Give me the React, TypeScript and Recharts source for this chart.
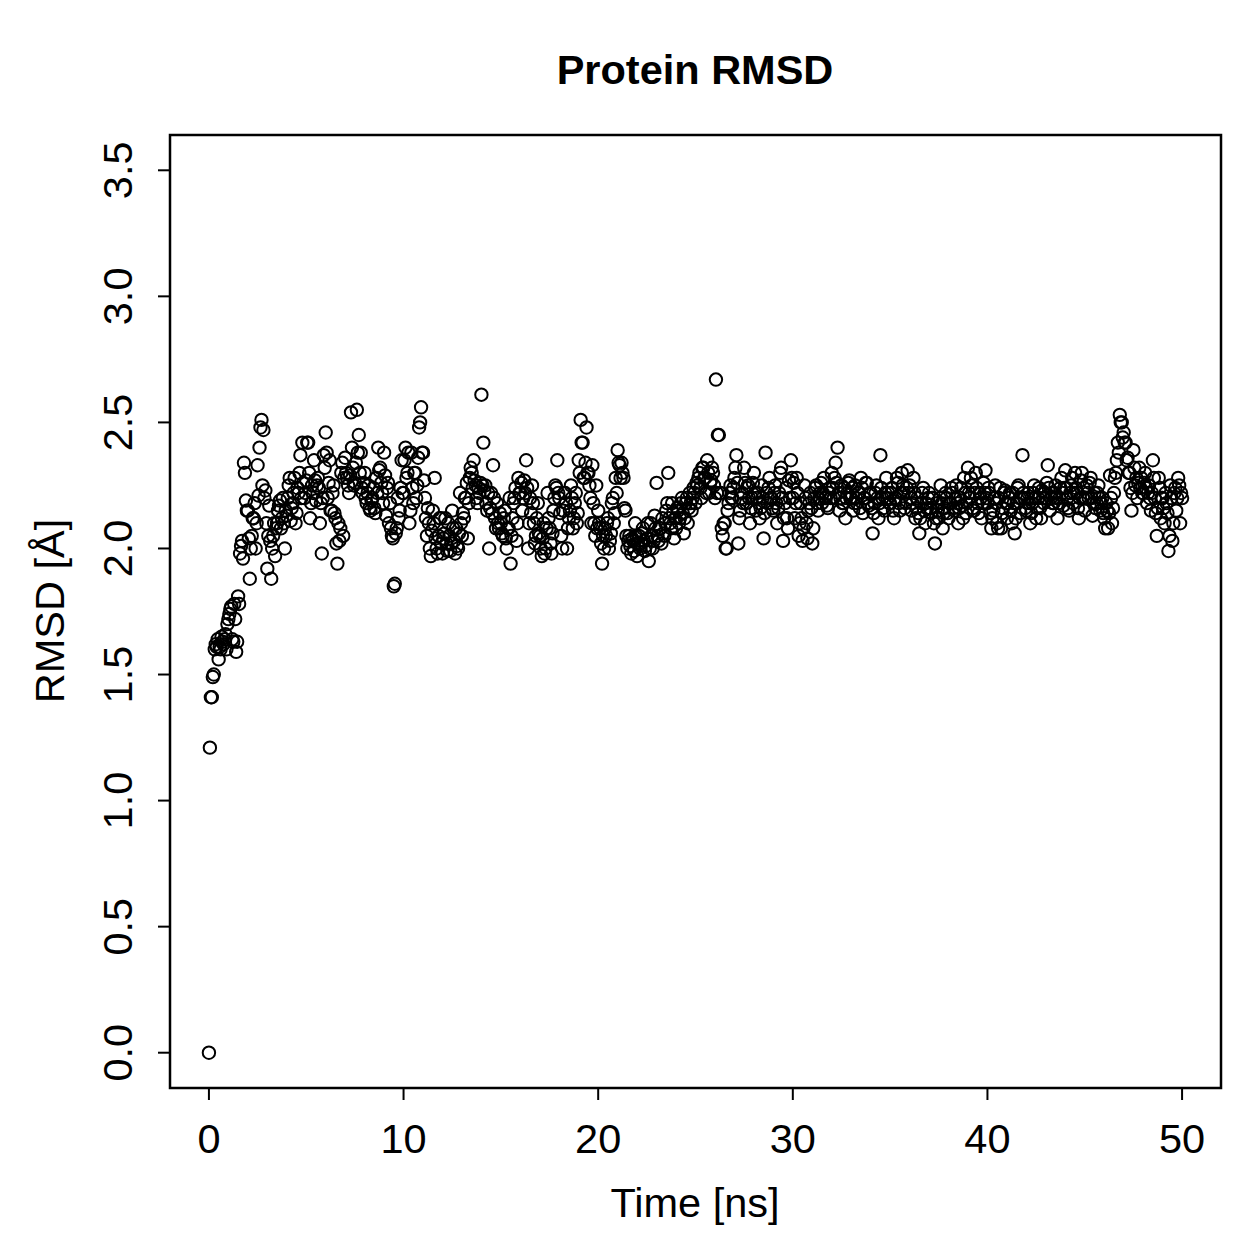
import React from "react";
import {
  ScatterChart,
  Scatter,
  XAxis,
  YAxis,
  ReferenceArea,
} from "recharts";

// RMSD sampled every 0.05 ns (20 frames per row = 1 ns), split in 10 ns blocks
const STEP_NS = 0.05;

const rmsd0to10 = [
  0.0, 1.21, 1.41, 1.41, 1.49, 1.5, 1.6, 1.62, 1.61, 1.64, 1.56, 1.61, 1.6, 1.65, 1.63, 1.62, 1.64, 1.66, 1.6, 1.7,
  1.72, 1.74, 1.76, 1.77, 1.64, 1.63, 1.78, 1.72, 1.59, 1.63, 1.81, 1.78, 1.98, 2.01, 2.03, 1.96, 2.34, 2.3, 2.19, 2.15,
  2.15, 2.04, 1.88, 2.0, 2.05, 2.12, 2.12, 2.18, 2.0, 2.1, 2.33, 2.21, 2.4, 2.48, 2.51, 2.25, 2.47, 2.2, 2.23, 2.1,
  1.92, 2.05, 2.17, 2.03, 1.88, 2.0, 2.05, 2.1, 1.97, 2.08, 2.1, 2.15, 2.17, 2.19, 2.08, 2.12, 2.2, 2.1, 2.0, 2.15,
  2.13, 2.2, 2.25, 2.28, 2.11, 2.16, 2.18, 2.22, 2.28, 2.1, 2.14, 2.24, 2.22, 2.3, 2.37, 2.2, 2.42, 2.26, 2.2, 2.22,
  2.27, 2.42, 2.42, 2.3, 2.12, 2.18, 2.25, 2.22, 2.35, 2.27, 2.19, 2.25, 2.28, 2.24, 2.1, 2.18, 1.98, 2.2, 2.37, 2.32,
  2.46, 2.38, 2.2, 2.26, 2.35, 2.15, 2.15, 2.22, 2.25, 2.14, 2.12, 2.02, 1.94, 2.1, 2.03, 2.08, 2.3, 2.34, 2.05, 2.28,
  2.36, 2.3, 2.28, 2.25, 2.22, 2.29, 2.54, 2.4, 2.32, 2.25, 2.26, 2.34, 2.55, 2.38, 2.45, 2.3, 2.38, 2.24, 2.22, 2.26,
  2.3, 2.2, 2.18, 2.22, 2.25, 2.16, 2.15, 2.19, 2.2, 2.24, 2.16, 2.14, 2.28, 2.22, 2.4, 2.31, 2.32, 2.26, 2.22, 2.18,
  2.38, 2.29, 2.13, 2.24, 2.26, 2.1, 2.18, 2.08, 2.05, 2.04, 1.85, 1.86, 2.06, 2.08, 2.2, 2.12, 2.15, 2.24, 2.35, 2.22,
];

const rmsd10to20 = [
  2.22, 2.35, 2.4, 2.28, 2.3, 2.38, 2.1, 2.15, 2.38, 2.24, 2.18, 2.3, 2.3, 2.2, 2.25, 2.36, 2.48, 2.5, 2.56, 2.38,
  2.38, 2.27, 2.2, 2.12, 2.05, 2.16, 2.1, 2.0, 1.97, 2.07, 2.15, 2.1, 2.28, 2.04, 2.0, 1.98, 2.05, 2.12, 2.12, 2.02,
  1.98, 2.04, 2.06, 2.12, 2.02, 1.99, 2.1, 2.05, 1.99, 2.02, 2.15, 2.08, 2.03, 1.98, 2.08, 2.01, 2.0, 2.06, 2.22, 2.1,
  2.05, 2.14, 2.12, 2.2, 2.2, 2.26, 2.04, 2.18, 2.28, 2.32, 2.3, 2.24, 2.35, 2.27, 2.25, 2.2, 2.18, 2.24, 2.22, 2.26,
  2.61, 2.25, 2.42, 2.23, 2.25, 2.18, 2.15, 2.22, 2.0, 2.16, 2.22, 2.14, 2.33, 2.2, 2.12, 2.08, 2.18, 2.1, 2.08, 2.14,
  2.1, 2.06, 2.05, 2.12, 2.15, 2.04, 2.0, 2.08, 2.08, 2.2, 1.94, 2.05, 2.12, 2.18, 2.2, 2.24, 2.03, 2.1, 2.28, 2.22,
  2.22, 2.26, 2.15, 2.2, 2.27, 2.22, 2.35, 2.24, 2.0, 2.1, 2.2, 2.14, 2.25, 2.18, 2.1, 2.02, 2.05, 2.12, 2.18, 2.06,
  2.05, 2.0, 1.97, 2.04, 2.1, 1.98, 2.0, 2.08, 2.22, 2.12, 2.08, 2.02, 1.98, 2.06, 2.15, 2.2, 2.25, 2.24, 2.35, 2.22,
  2.2, 2.14, 2.05, 2.0, 2.15, 2.22, 2.22, 2.18, 2.0, 2.08, 2.12, 2.15, 2.25, 2.2, 2.08, 2.12, 2.18, 2.22, 2.1, 2.14,
  2.35, 2.3, 2.51, 2.42, 2.42, 2.28, 2.28, 2.34, 2.48, 2.3, 2.3, 2.25, 2.2, 2.1, 2.33, 2.18, 2.1, 2.05, 2.25, 2.08,
];

const rmsd20to30 = [
  2.15, 2.1, 2.08, 2.02, 1.94, 2.05, 2.0, 2.08, 2.05, 2.1, 2.12, 2.0, 2.03, 2.06, 2.18, 2.2, 2.1, 2.14, 2.28, 2.22,
  2.39, 2.34, 2.33, 2.28, 2.34, 2.3, 2.28, 2.16, 2.15, 2.05, 2.0, 2.03, 2.05, 2.01, 1.98, 2.04, 2.03, 1.99, 2.1, 2.05,
  1.97, 2.02, 2.05, 2.0, 2.02, 2.06, 2.08, 2.03, 1.99, 2.01, 2.04, 2.1, 1.95, 2.0, 2.1, 2.05, 2.0, 2.03, 2.13, 2.08,
  2.26, 2.05, 2.03, 2.08, 2.08, 2.02, 2.12, 2.06, 2.05, 2.1, 2.15, 2.18, 2.3, 2.12, 2.1, 2.08, 2.18, 2.14, 2.04, 2.12,
  2.08, 2.16, 2.15, 2.1, 2.12, 2.18, 2.2, 2.14, 2.06, 2.12, 2.18, 2.2, 2.1, 2.16, 2.22, 2.18, 2.15, 2.2, 2.24, 2.22,
  2.18, 2.26, 2.25, 2.28, 2.3, 2.24, 2.2, 2.32, 2.32, 2.28, 2.28, 2.22, 2.35, 2.3, 2.22, 2.26, 2.27, 2.32, 2.3, 2.25,
  2.2, 2.67, 2.22, 2.45, 2.45, 2.22, 2.22, 2.08, 2.05, 2.1, 2.1, 2.0, 2.0, 2.15, 2.18, 2.22, 2.25, 2.2, 2.2, 2.24,
  2.28, 2.32, 2.37, 2.26, 2.02, 2.12, 2.15, 2.2, 2.22, 2.18, 2.32, 2.26, 2.18, 2.24, 2.25, 2.2, 2.1, 2.16, 2.2, 2.26,
  2.3, 2.22, 2.15, 2.2, 2.22, 2.18, 2.12, 2.16, 2.25, 2.2, 2.04, 2.14, 2.38, 2.22, 2.18, 2.24, 2.28, 2.2, 2.2, 2.16,
  2.15, 2.22, 2.25, 2.18, 2.1, 2.16, 2.22, 2.3, 2.32, 2.2, 2.03, 2.12, 2.18, 2.24, 2.12, 2.08, 2.27, 2.2, 2.35, 2.28,
];

const rmsd30to40 = [
  2.2, 2.26, 2.12, 2.18, 2.28, 2.22, 2.05, 2.1, 2.18, 2.12, 2.03, 2.08, 2.25, 2.2, 2.1, 2.04, 2.15, 2.18, 2.22, 2.16,
  2.02, 2.08, 2.2, 2.24, 2.25, 2.18, 2.15, 2.2, 2.22, 2.26, 2.18, 2.22, 2.28, 2.2, 2.2, 2.17, 2.16, 2.22, 2.24, 2.2,
  2.3, 2.24, 2.2, 2.28, 2.34, 2.26, 2.4, 2.22, 2.15, 2.2, 2.25, 2.18, 2.18, 2.24, 2.12, 2.2, 2.22, 2.26, 2.27, 2.2,
  2.2, 2.24, 2.15, 2.18, 2.25, 2.2, 2.18, 2.22, 2.22, 2.16, 2.28, 2.24, 2.14, 2.2, 2.2, 2.26, 2.26, 2.18, 2.17, 2.22,
  2.22, 2.16, 2.06, 2.14, 2.18, 2.22, 2.25, 2.2, 2.12, 2.18, 2.37, 2.24, 2.2, 2.16, 2.15, 2.22, 2.28, 2.2, 2.22, 2.18,
  2.18, 2.22, 2.24, 2.15, 2.12, 2.2, 2.2, 2.28, 2.26, 2.18, 2.15, 2.22, 2.3, 2.25, 2.22, 2.16, 2.18, 2.24, 2.31, 2.22,
  2.25, 2.2, 2.15, 2.18, 2.28, 2.22, 2.12, 2.16, 2.2, 2.14, 2.06, 2.12, 2.18, 2.22, 2.24, 2.15, 2.1, 2.18, 2.16, 2.2,
  2.22, 2.16, 2.14, 2.2, 2.2, 2.1, 2.02, 2.12, 2.18, 2.15, 2.12, 2.2, 2.25, 2.18, 2.08, 2.14, 2.16, 2.22, 2.2, 2.14,
  2.12, 2.18, 2.18, 2.24, 2.22, 2.16, 2.15, 2.2, 2.25, 2.18, 2.1, 2.16, 2.2, 2.24, 2.17, 2.12, 2.28, 2.22, 2.14, 2.18,
  2.32, 2.22, 2.2, 2.28, 2.25, 2.16, 2.15, 2.22, 2.3, 2.24, 2.18, 2.14, 2.22, 2.2, 2.12, 2.18, 2.26, 2.22, 2.31, 2.2,
];

const rmsd40to50 = [
  2.18, 2.24, 2.22, 2.14, 2.08, 2.12, 2.15, 2.2, 2.25, 2.18, 2.1, 2.08, 2.2, 2.24, 2.08, 2.14, 2.16, 2.22, 2.23, 2.18,
  2.12, 2.18, 2.2, 2.22, 2.15, 2.1, 2.22, 2.18, 2.06, 2.12, 2.18, 2.24, 2.25, 2.2, 2.14, 2.2, 2.37, 2.22, 2.2, 2.16,
  2.15, 2.2, 2.22, 2.18, 2.1, 2.14, 2.18, 2.22, 2.25, 2.2, 2.12, 2.16, 2.2, 2.24, 2.16, 2.12, 2.23, 2.2, 2.18, 2.22,
  2.2, 2.26, 2.33, 2.24, 2.15, 2.2, 2.22, 2.18, 2.18, 2.22, 2.25, 2.2, 2.12, 2.18, 2.2, 2.24, 2.28, 2.22, 2.17, 2.24,
  2.31, 2.24, 2.2, 2.16, 2.15, 2.22, 2.25, 2.28, 2.18, 2.22, 2.3, 2.24, 2.22, 2.16, 2.12, 2.2, 2.27, 2.3, 2.2, 2.24,
  2.15, 2.2, 2.25, 2.22, 2.2, 2.26, 2.28, 2.2, 2.13, 2.18, 2.22, 2.16, 2.18, 2.22, 2.25, 2.2, 2.15, 2.18, 2.2, 2.14,
  2.12, 2.08, 2.18, 2.15, 2.08, 2.14, 2.29, 2.2, 2.1, 2.16, 2.22, 2.28, 2.3, 2.35, 2.42, 2.38, 2.53, 2.5, 2.5, 2.44,
  2.46, 2.42, 2.42, 2.35, 2.36, 2.3, 2.3, 2.24, 2.15, 2.22, 2.39, 2.32, 2.25, 2.28, 2.2, 2.26, 2.32, 2.24, 2.28, 2.22,
  2.22, 2.26, 2.3, 2.24, 2.18, 2.22, 2.25, 2.2, 2.15, 2.22, 2.35, 2.28, 2.2, 2.14, 2.05, 2.16, 2.28, 2.24, 2.12, 2.2,
  2.2, 2.16, 2.1, 2.22, 2.18, 2.14, 1.99, 2.05, 2.25, 2.2, 2.03, 2.1, 2.22, 2.24, 2.15, 2.2, 2.28, 2.25, 2.1, 2.22,
  2.2,
];

const xTicks = [0, 10, 20, 30, 40, 50];
const yTicks = [0, 0.5, 1, 1.5, 2, 2.5, 3, 3.5];

// R-style 4% padding around the axis ranges
const xDomain: [number, number] = [-2, 52];
const yDomain: [number, number] = [-0.14, 3.64];

const allRmsd = [
  ...rmsd0to10,
  ...rmsd10to20,
  ...rmsd20to30,
  ...rmsd30to40,
  ...rmsd40to50,
];
const points = allRmsd.map((v, i) => ({
  t: Math.round(i * STEP_NS * 100) / 100,
  rmsd: v,
}));

const FONT = "'Liberation Sans', Arial, Helvetica, sans-serif";
const LABEL_SIZE = 41.5;

const XTick = (props: any) => {
  const { x, payload } = props;
  return (
    <text
      x={x}
      y={1138}
      textAnchor="middle"
      dominantBaseline="central"
      fontFamily={FONT}
      fontSize={LABEL_SIZE}
      fill="#000"
    >
      {payload.value}
    </text>
  );
};

const YTick = (props: any) => {
  const { y, payload } = props;
  const cx = 118;
  return (
    <text
      x={cx}
      y={y}
      transform={`rotate(-90, ${cx}, ${y})`}
      textAnchor="middle"
      dominantBaseline="central"
      fontFamily={FONT}
      fontSize={LABEL_SIZE}
      fill="#000"
    >
      {Number(payload.value).toFixed(1)}
    </text>
  );
};

const OpenCircle = (props: any) => (
  <circle
    cx={props.cx}
    cy={props.cy}
    r={6.2}
    fill="none"
    stroke="#000"
    strokeWidth={2}
  />
);

export default function App() {
  return (
    <div
      style={{
        position: "absolute",
        left: 0,
        top: 0,
        width: 1259,
        height: 1259,
        background: "#fff",
        fontFamily: FONT,
      }}
    >
      <ScatterChart
        width={1259}
        height={1259}
        margin={{ top: 135, right: 38, bottom: 71, left: 70 }}
      >
        <XAxis
          type="number"
          dataKey="t"
          domain={xDomain}
          ticks={xTicks}
          allowDataOverflow
          axisLine={false}
          tickLine={{ stroke: "#000", strokeWidth: 2 }}
          tickSize={12}
          tick={<XTick />}
          height={100}
        />
        <YAxis
          type="number"
          dataKey="rmsd"
          domain={yDomain}
          ticks={yTicks}
          allowDataOverflow
          axisLine={false}
          tickLine={{ stroke: "#000", strokeWidth: 2 }}
          tickSize={12}
          tick={<YTick />}
          width={100}
        />
        <ReferenceArea
          x1={xDomain[0]}
          x2={xDomain[1]}
          y1={yDomain[0]}
          y2={yDomain[1]}
          fill="none"
          stroke="#000"
          strokeWidth={2.5}
          ifOverflow="visible"
        />
        <Scatter
          data={points}
          shape={<OpenCircle />}
          isAnimationActive={false}
        />
      </ScatterChart>

      <div
        style={{
          position: "absolute",
          left: 695,
          top: 70,
          transform: "translate(-50%, -50%)",
          fontSize: 41.5,
          fontWeight: "bold",
          lineHeight: 1,
          whiteSpace: "nowrap",
        }}
      >
        Protein RMSD
      </div>
      <div
        style={{
          position: "absolute",
          left: 695,
          top: 1203,
          transform: "translate(-50%, -50%)",
          fontSize: LABEL_SIZE,
          lineHeight: 1,
          whiteSpace: "nowrap",
        }}
      >
        Time [ns]
      </div>
      <div
        style={{
          position: "absolute",
          left: 50,
          top: 611,
          transform: "translate(-50%, -50%) rotate(-90deg)",
          fontSize: LABEL_SIZE,
          lineHeight: 1,
          whiteSpace: "nowrap",
        }}
      >
        RMSD [Å]
      </div>
    </div>
  );
}
